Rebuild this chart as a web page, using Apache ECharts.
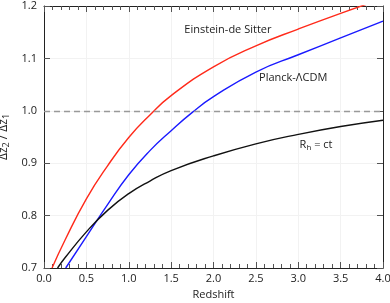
<!DOCTYPE html>
<html>
<head>
<meta charset="utf-8">
<script src="https://cdn.jsdelivr.net/npm/echarts@6/dist/echarts.min.js"></script>
<style>html,body{margin:0;padding:0;background:#fff}#c{width:390px;height:303px}</style>
</head>
<body>
<div id="c"></div>
<script>
// Data
var edsX  = [0.095, 0.25, 0.5, 0.75, 1.0, 1.25, 1.5, 2.0, 2.5, 3.0, 3.5, 4.0];
var edsY  = [0.700, 0.754, 0.832, 0.895, 0.949, 0.992, 1.029, 1.084, 1.124, 1.156, 1.186, 1.214];
var lcdmX = [0.256, 0.5, 0.75, 1.0, 1.25, 1.5, 1.75, 2.0, 2.5, 3.0, 3.5, 4.0];
var lcdmY = [0.700, 0.760, 0.821, 0.878, 0.924, 0.962, 0.997, 1.027, 1.074, 1.107, 1.139, 1.171];
var rhX   = [0.16, 0.25, 0.5, 0.75, 1.0, 1.25, 1.5, 2.0, 2.5, 3.0, 3.5, 4.0];
var rhY   = [0.700, 0.720, 0.769, 0.810, 0.842, 0.866, 0.886, 0.914, 0.937, 0.955, 0.970, 0.982];
var refLine = 1.0;
var labelNames = ['Einstein-de Sitter', 'Planck-\u039BCDM', 'Rh'];
var labelPos = [[2.17, 1.154], [2.94, 1.063], [3.21, 0.935]];

function pairs(xs, ys){ return xs.map(function(x,i){ return [x, ys[i]]; }); }

var chart = echarts.init(document.getElementById('c'));
var font = 'Open Sans';
var fmt1 = function(v){ return v.toFixed(1); };
var baseX = {
  type:'value', min:0, max:4, interval:0.5,
  axisLine:{show:true, onZero:false, lineStyle:{color:'#222', width:1}},
  axisTick:{show:true, inside:true, length:6, lineStyle:{color:'#555'}},
  minorTick:{show:true, splitNumber:5, length:4, lineStyle:{color:'#555'}},
  splitLine:{show:false}
};
var baseY = {
  type:'value', min:0.7, max:1.2, interval:0.1,
  axisLine:{show:true, onZero:false, lineStyle:{color:'#222', width:1}},
  axisTick:{show:true, inside:true, length:6, lineStyle:{color:'#555'}},
  splitLine:{show:false}
};
var option = {
  animation:false,
  grid:{left:44, right:7, top:6, bottom:35, containLabel:false, outerBoundsMode:'none'},
  xAxis:[
    Object.assign({}, baseX, {position:'bottom',
      name:'Redshift', nameLocation:'middle', nameGap:20,
      nameTextStyle:{fontFamily:font, fontSize:11, color:'#222'},
      axisLabel:{formatter:fmt1, fontFamily:font, fontSize:11, color:'#222', margin:5},
      splitLine:{show:true, lineStyle:{color:'#f2f2f2', width:1}}}),
    Object.assign({}, baseX, {position:'top', axisLabel:{show:false}})
  ],
  yAxis:[
    Object.assign({}, baseY, {position:'left',
      name:'{a|\u0394z}{s|2}{a| / \u0394z}{s|1}', nameLocation:'middle', nameGap:26,
      nameTextStyle:{fontFamily:font, fontSize:11, color:'#222',
        rich:{a:{fontFamily:font, fontSize:12, color:'#222'}, s:{fontFamily:font, fontSize:9, color:'#222', verticalAlign:'bottom', padding:[6,0,0,0]}}},
      axisLabel:{formatter:fmt1, fontFamily:font, fontSize:11, color:'#222', margin:7},
      splitLine:{show:true, lineStyle:{color:'#f2f2f2', width:1}}}),
    Object.assign({}, baseY, {position:'right', axisLabel:{show:false}})
  ],
  series:[
    {type:'line', name:'EdS', data:pairs(edsX, edsY), smooth:0.5, showSymbol:false, clip:true,
      lineStyle:{color:'#ff2a1a', width:1.4}, z:3,
      markPoint:{symbol:'circle', symbolSize:0, silent:true,
        label:{show:true, formatter:'{b}', fontFamily:font, fontSize:11, color:'#222', position:'inside'},
        data:[{name:labelNames[0], coord:labelPos[0]}]}},
    {type:'line', name:'LCDM', data:pairs(lcdmX, lcdmY), smooth:0.5, showSymbol:false, clip:true,
      lineStyle:{color:'#1a1aff', width:1.4}, z:3,
      markPoint:{symbol:'circle', symbolSize:0, silent:true,
        label:{show:true, formatter:'{b}', fontFamily:font, fontSize:11, color:'#222', position:'inside'},
        data:[{name:labelNames[1], coord:labelPos[1]}]}},
    {type:'line', name:'Rh', data:pairs(rhX, rhY), smooth:0.5, showSymbol:false, clip:true,
      lineStyle:{color:'#111', width:1.4}, z:3,
      markLine:{symbol:'none', silent:true, label:{show:false},
        lineStyle:{color:'#999', type:[6,4], width:1.3},
        data:[{yAxis:refLine}]},
      markPoint:{symbol:'circle', symbolSize:0, silent:true,
        label:{show:true, fontFamily:font, fontSize:11, color:'#222', position:'inside',
          formatter:'{a|R}{s|h}{a| = ct}',
          rich:{a:{fontFamily:font, fontSize:11, color:'#222'}, s:{fontFamily:font, fontSize:8, color:'#222', verticalAlign:'bottom', padding:[6,0,0,0]}}},
        data:[{name:labelNames[2], coord:labelPos[2]}]}}
  ]
};
chart.setOption(option);
</script>
</body>
</html>
